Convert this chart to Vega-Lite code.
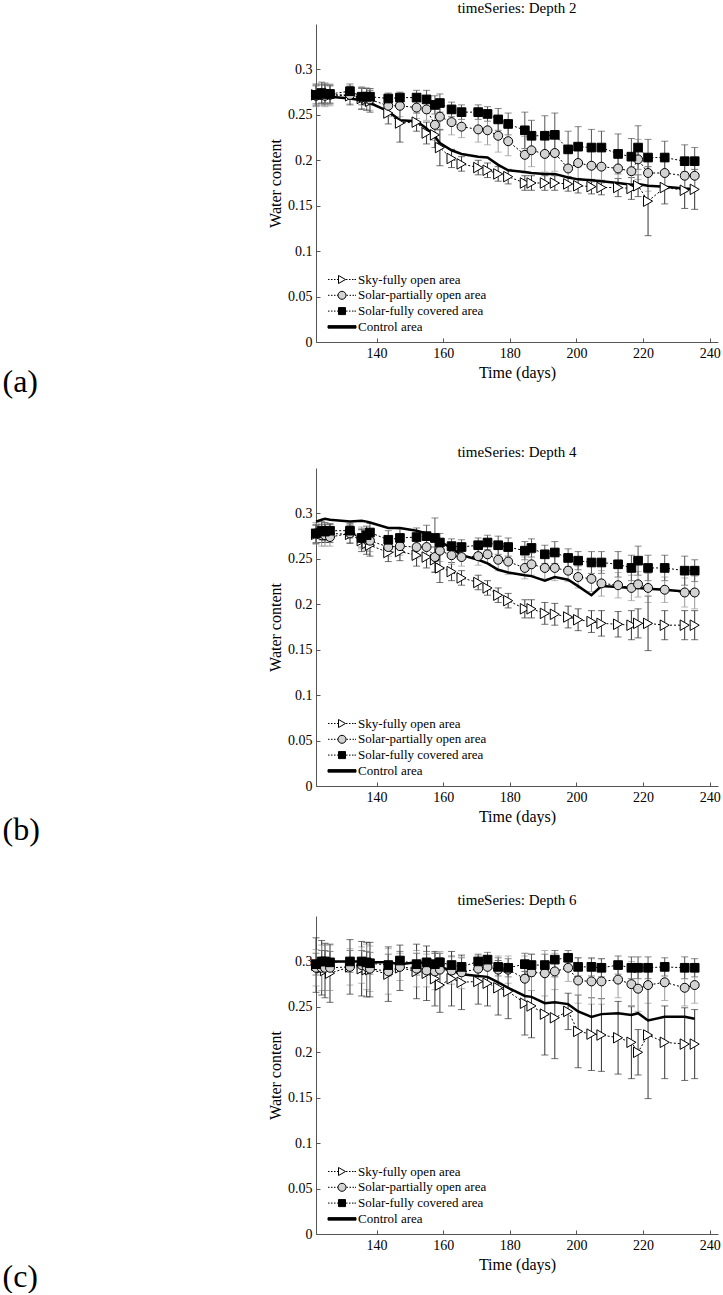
{
"$schema": "https://vega.github.io/schema/vega-lite/v6.json",
"padding": {"left": 2, "top": 1, "right": 2, "bottom": 0},
"config": {
 "font": "Liberation Serif",
 "view": {"stroke": null},
 "axis": {"grid": false, "domainColor": "#555", "tickColor": "#555", "tickSize": -4, "labelPadding": 8, "labelFont": "Liberation Serif", "labelFontSize": 14, "labelColor": "black", "titleFont": "Liberation Serif", "titleFontSize": 16, "titleFontWeight": "normal", "titleColor": "black"},
 "title": {"font": "Liberation Serif", "fontWeight": "normal", "color": "black"},
 "legend": {"title": null, "orient": "bottom-left", "offset": 8, "padding": 0, "labelFont": "Liberation Serif", "labelFontSize": 13, "labelColor": "black", "symbolSize": 100, "rowPadding": 1.8, "labelOffset": 21, "labelLimit": 0, "symbolOpacity": 1, "symbolStrokeWidth": 1, "symbolStrokeColor": "black"}
},
"datasets": {
"a": [
{"s":"sky","d":121.8,"v":0.272,"e":0.010},{"s":"sky","d":123.5,"v":0.273,"e":0.010},{"s":"sky","d":124.5,"v":0.273,"e":0.010},{"s":"sky","d":126,"v":0.272,"e":0.010},{"s":"sky","d":132,"v":0.271,"e":0.010},{"s":"sky","d":135.5,"v":0.268,"e":0.012},{"s":"sky","d":137,"v":0.267,"e":0.012},{"s":"sky","d":138,"v":0.265,"e":0.012},{"s":"sky","d":143.5,"v":0.252,"e":0.012},{"s":"sky","d":147,"v":0.241,"e":0.021},{"s":"sky","d":152,"v":0.242,"e":0.010},{"s":"sky","d":155,"v":0.230,"e":0.012},{"s":"sky","d":157.5,"v":0.228,"e":0.014},{"s":"sky","d":159,"v":0.214,"e":0.020},{"s":"sky","d":162.5,"v":0.202,"e":0.010},{"s":"sky","d":165.5,"v":0.196,"e":0.008},{"s":"sky","d":170.5,"v":0.192,"e":0.008},{"s":"sky","d":173.3,"v":0.189,"e":0.008},{"s":"sky","d":176.5,"v":0.185,"e":0.008},{"s":"sky","d":179.5,"v":0.182,"e":0.008},{"s":"sky","d":184.5,"v":0.175,"e":0.008},{"s":"sky","d":186.5,"v":0.175,"e":0.008},{"s":"sky","d":190.5,"v":0.175,"e":0.008},{"s":"sky","d":193.5,"v":0.175,"e":0.008},{"s":"sky","d":197.5,"v":0.174,"e":0.008},{"s":"sky","d":200.5,"v":0.172,"e":0.008},{"s":"sky","d":204.5,"v":0.171,"e":0.008},{"s":"sky","d":207.5,"v":0.170,"e":0.008},{"s":"sky","d":212.5,"v":0.170,"e":0.010},{"s":"sky","d":216.5,"v":0.169,"e":0.012},{"s":"sky","d":218.5,"v":0.172,"e":0.012},{"s":"sky","d":221.5,"v":0.155,"e":0.038},{"s":"sky","d":226.5,"v":0.170,"e":0.018},{"s":"sky","d":232.5,"v":0.167,"e":0.020},{"s":"sky","d":235.5,"v":0.168,"e":0.022},
{"s":"partial","d":121.8,"v":0.271,"e":0.012},{"s":"partial","d":123.5,"v":0.272,"e":0.012},{"s":"partial","d":124.5,"v":0.271,"e":0.012},{"s":"partial","d":126,"v":0.272,"e":0.012},{"s":"partial","d":132,"v":0.272,"e":0.010},{"s":"partial","d":135.5,"v":0.269,"e":0.012},{"s":"partial","d":137,"v":0.268,"e":0.012},{"s":"partial","d":138,"v":0.267,"e":0.012},{"s":"partial","d":143.5,"v":0.260,"e":0.012},{"s":"partial","d":147,"v":0.260,"e":0.012},{"s":"partial","d":152,"v":0.258,"e":0.012},{"s":"partial","d":155,"v":0.256,"e":0.012},{"s":"partial","d":157.5,"v":0.239,"e":0.017},{"s":"partial","d":159,"v":0.248,"e":0.015},{"s":"partial","d":162.5,"v":0.242,"e":0.014},{"s":"partial","d":165.5,"v":0.237,"e":0.012},{"s":"partial","d":170.5,"v":0.234,"e":0.014},{"s":"partial","d":173.3,"v":0.233,"e":0.016},{"s":"partial","d":176.5,"v":0.227,"e":0.018},{"s":"partial","d":179.5,"v":0.221,"e":0.016},{"s":"partial","d":184.5,"v":0.206,"e":0.020},{"s":"partial","d":186.5,"v":0.211,"e":0.018},{"s":"partial","d":190.5,"v":0.207,"e":0.020},{"s":"partial","d":193.5,"v":0.208,"e":0.020},{"s":"partial","d":197.5,"v":0.191,"e":0.018},{"s":"partial","d":200.5,"v":0.197,"e":0.018},{"s":"partial","d":204.5,"v":0.194,"e":0.018},{"s":"partial","d":207.5,"v":0.193,"e":0.018},{"s":"partial","d":212.5,"v":0.191,"e":0.020},{"s":"partial","d":216.5,"v":0.188,"e":0.018},{"s":"partial","d":218.5,"v":0.201,"e":0.022},{"s":"partial","d":221.5,"v":0.186,"e":0.020},{"s":"partial","d":226.5,"v":0.186,"e":0.018},{"s":"partial","d":232.5,"v":0.183,"e":0.018},{"s":"partial","d":235.5,"v":0.183,"e":0.016},
{"s":"covered","d":121.8,"v":0.272,"e":0.012},{"s":"covered","d":123.5,"v":0.274,"e":0.012},{"s":"covered","d":124.5,"v":0.273,"e":0.012},{"s":"covered","d":126,"v":0.273,"e":0.010},{"s":"covered","d":132,"v":0.276,"e":0.008},{"s":"covered","d":135.5,"v":0.270,"e":0.009},{"s":"covered","d":137,"v":0.270,"e":0.009},{"s":"covered","d":138,"v":0.270,"e":0.009},{"s":"covered","d":143.5,"v":0.268,"e":0.006},{"s":"covered","d":147,"v":0.269,"e":0.006},{"s":"covered","d":152,"v":0.269,"e":0.008},{"s":"covered","d":155,"v":0.267,"e":0.010},{"s":"covered","d":157.5,"v":0.261,"e":0.010},{"s":"covered","d":159,"v":0.263,"e":0.010},{"s":"covered","d":162.5,"v":0.256,"e":0.008},{"s":"covered","d":165.5,"v":0.253,"e":0.008},{"s":"covered","d":170.5,"v":0.253,"e":0.008},{"s":"covered","d":173.3,"v":0.251,"e":0.008},{"s":"covered","d":176.5,"v":0.245,"e":0.012},{"s":"covered","d":179.5,"v":0.240,"e":0.012},{"s":"covered","d":184.5,"v":0.233,"e":0.020},{"s":"covered","d":186.5,"v":0.227,"e":0.017},{"s":"covered","d":190.5,"v":0.227,"e":0.022},{"s":"covered","d":193.5,"v":0.228,"e":0.024},{"s":"covered","d":197.5,"v":0.212,"e":0.020},{"s":"covered","d":200.5,"v":0.215,"e":0.022},{"s":"covered","d":204.5,"v":0.214,"e":0.020},{"s":"covered","d":207.5,"v":0.214,"e":0.018},{"s":"covered","d":212.5,"v":0.207,"e":0.022},{"s":"covered","d":216.5,"v":0.204,"e":0.020},{"s":"covered","d":218.5,"v":0.214,"e":0.024},{"s":"covered","d":221.5,"v":0.203,"e":0.020},{"s":"covered","d":226.5,"v":0.203,"e":0.018},{"s":"covered","d":232.5,"v":0.199,"e":0.018},{"s":"covered","d":235.5,"v":0.199,"e":0.015},
{"s":"control","d":121.8,"v":0.271,"e":0},{"s":"control","d":123.5,"v":0.270,"e":0},{"s":"control","d":124.5,"v":0.270,"e":0},{"s":"control","d":126,"v":0.270,"e":0},{"s":"control","d":132,"v":0.268,"e":0},{"s":"control","d":135.5,"v":0.266,"e":0},{"s":"control","d":137,"v":0.264,"e":0},{"s":"control","d":138,"v":0.263,"e":0},{"s":"control","d":143.5,"v":0.254,"e":0},{"s":"control","d":147,"v":0.244,"e":0},{"s":"control","d":152,"v":0.243,"e":0},{"s":"control","d":155,"v":0.235,"e":0},{"s":"control","d":157.5,"v":0.226,"e":0},{"s":"control","d":159,"v":0.219,"e":0},{"s":"control","d":162.5,"v":0.211,"e":0},{"s":"control","d":165.5,"v":0.207,"e":0},{"s":"control","d":170.5,"v":0.204,"e":0},{"s":"control","d":173.3,"v":0.203,"e":0},{"s":"control","d":176.5,"v":0.195,"e":0},{"s":"control","d":179.5,"v":0.189,"e":0},{"s":"control","d":184.5,"v":0.187,"e":0},{"s":"control","d":186.5,"v":0.186,"e":0},{"s":"control","d":190.5,"v":0.185,"e":0},{"s":"control","d":193.5,"v":0.185,"e":0},{"s":"control","d":197.5,"v":0.181,"e":0},{"s":"control","d":200.5,"v":0.179,"e":0},{"s":"control","d":204.5,"v":0.178,"e":0},{"s":"control","d":207.5,"v":0.177,"e":0},{"s":"control","d":212.5,"v":0.175,"e":0},{"s":"control","d":216.5,"v":0.173,"e":0},{"s":"control","d":218.5,"v":0.174,"e":0},{"s":"control","d":221.5,"v":0.172,"e":0},{"s":"control","d":226.5,"v":0.171,"e":0},{"s":"control","d":232.5,"v":0.169,"e":0},{"s":"control","d":235.5,"v":0.168,"e":0}
],
"b": [
{"s":"sky","d":121.8,"v":0.277,"e":0.010},{"s":"sky","d":123.5,"v":0.278,"e":0.010},{"s":"sky","d":124.5,"v":0.278,"e":0.010},{"s":"sky","d":126,"v":0.278,"e":0.010},{"s":"sky","d":132,"v":0.277,"e":0.010},{"s":"sky","d":135.5,"v":0.270,"e":0.012},{"s":"sky","d":137,"v":0.267,"e":0.012},{"s":"sky","d":138,"v":0.265,"e":0.012},{"s":"sky","d":143.5,"v":0.257,"e":0.010},{"s":"sky","d":147,"v":0.258,"e":0.010},{"s":"sky","d":152,"v":0.254,"e":0.012},{"s":"sky","d":155,"v":0.252,"e":0.012},{"s":"sky","d":157.5,"v":0.249,"e":0.014},{"s":"sky","d":159,"v":0.240,"e":0.016},{"s":"sky","d":162.5,"v":0.236,"e":0.010},{"s":"sky","d":165.5,"v":0.229,"e":0.008},{"s":"sky","d":170.5,"v":0.224,"e":0.008},{"s":"sky","d":173.3,"v":0.218,"e":0.008},{"s":"sky","d":176.5,"v":0.210,"e":0.008},{"s":"sky","d":179.5,"v":0.204,"e":0.008},{"s":"sky","d":184.5,"v":0.195,"e":0.010},{"s":"sky","d":186.5,"v":0.195,"e":0.010},{"s":"sky","d":190.5,"v":0.190,"e":0.012},{"s":"sky","d":193.5,"v":0.189,"e":0.012},{"s":"sky","d":197.5,"v":0.186,"e":0.012},{"s":"sky","d":200.5,"v":0.183,"e":0.012},{"s":"sky","d":204.5,"v":0.181,"e":0.012},{"s":"sky","d":207.5,"v":0.179,"e":0.014},{"s":"sky","d":212.5,"v":0.178,"e":0.014},{"s":"sky","d":216.5,"v":0.177,"e":0.016},{"s":"sky","d":218.5,"v":0.179,"e":0.016},{"s":"sky","d":221.5,"v":0.179,"e":0.030},{"s":"sky","d":226.5,"v":0.177,"e":0.016},{"s":"sky","d":232.5,"v":0.177,"e":0.016},{"s":"sky","d":235.5,"v":0.177,"e":0.016},
{"s":"partial","d":121.8,"v":0.278,"e":0.012},{"s":"partial","d":123.5,"v":0.276,"e":0.012},{"s":"partial","d":124.5,"v":0.276,"e":0.012},{"s":"partial","d":126,"v":0.274,"e":0.010},{"s":"partial","d":132,"v":0.278,"e":0.010},{"s":"partial","d":135.5,"v":0.273,"e":0.012},{"s":"partial","d":137,"v":0.271,"e":0.012},{"s":"partial","d":138,"v":0.270,"e":0.012},{"s":"partial","d":143.5,"v":0.263,"e":0.010},{"s":"partial","d":147,"v":0.264,"e":0.010},{"s":"partial","d":152,"v":0.263,"e":0.012},{"s":"partial","d":155,"v":0.263,"e":0.012},{"s":"partial","d":157.5,"v":0.252,"e":0.016},{"s":"partial","d":159,"v":0.259,"e":0.012},{"s":"partial","d":162.5,"v":0.254,"e":0.010},{"s":"partial","d":165.5,"v":0.252,"e":0.010},{"s":"partial","d":170.5,"v":0.253,"e":0.010},{"s":"partial","d":173.3,"v":0.255,"e":0.010},{"s":"partial","d":176.5,"v":0.249,"e":0.012},{"s":"partial","d":179.5,"v":0.247,"e":0.014},{"s":"partial","d":184.5,"v":0.240,"e":0.012},{"s":"partial","d":186.5,"v":0.244,"e":0.012},{"s":"partial","d":190.5,"v":0.240,"e":0.012},{"s":"partial","d":193.5,"v":0.240,"e":0.014},{"s":"partial","d":197.5,"v":0.237,"e":0.012},{"s":"partial","d":200.5,"v":0.230,"e":0.012},{"s":"partial","d":204.5,"v":0.228,"e":0.014},{"s":"partial","d":207.5,"v":0.223,"e":0.014},{"s":"partial","d":212.5,"v":0.221,"e":0.014},{"s":"partial","d":216.5,"v":0.218,"e":0.014},{"s":"partial","d":218.5,"v":0.222,"e":0.014},{"s":"partial","d":221.5,"v":0.218,"e":0.016},{"s":"partial","d":226.5,"v":0.216,"e":0.014},{"s":"partial","d":232.5,"v":0.213,"e":0.016},{"s":"partial","d":235.5,"v":0.213,"e":0.018},
{"s":"covered","d":121.8,"v":0.278,"e":0.010},{"s":"covered","d":123.5,"v":0.281,"e":0.010},{"s":"covered","d":124.5,"v":0.280,"e":0.010},{"s":"covered","d":126,"v":0.281,"e":0.008},{"s":"covered","d":132,"v":0.281,"e":0.008},{"s":"covered","d":135.5,"v":0.273,"e":0.010},{"s":"covered","d":137,"v":0.276,"e":0.010},{"s":"covered","d":138,"v":0.279,"e":0.010},{"s":"covered","d":143.5,"v":0.271,"e":0.010},{"s":"covered","d":147,"v":0.273,"e":0.010},{"s":"covered","d":152,"v":0.274,"e":0.010},{"s":"covered","d":155,"v":0.275,"e":0.012},{"s":"covered","d":157.5,"v":0.273,"e":0.022},{"s":"covered","d":159,"v":0.268,"e":0.010},{"s":"covered","d":162.5,"v":0.264,"e":0.008},{"s":"covered","d":165.5,"v":0.263,"e":0.008},{"s":"covered","d":170.5,"v":0.265,"e":0.008},{"s":"covered","d":173.3,"v":0.268,"e":0.008},{"s":"covered","d":176.5,"v":0.265,"e":0.010},{"s":"covered","d":179.5,"v":0.263,"e":0.010},{"s":"covered","d":184.5,"v":0.259,"e":0.010},{"s":"covered","d":186.5,"v":0.262,"e":0.010},{"s":"covered","d":190.5,"v":0.255,"e":0.010},{"s":"covered","d":193.5,"v":0.257,"e":0.012},{"s":"covered","d":197.5,"v":0.251,"e":0.010},{"s":"covered","d":200.5,"v":0.248,"e":0.010},{"s":"covered","d":204.5,"v":0.246,"e":0.012},{"s":"covered","d":207.5,"v":0.246,"e":0.012},{"s":"covered","d":212.5,"v":0.244,"e":0.014},{"s":"covered","d":216.5,"v":0.240,"e":0.014},{"s":"covered","d":218.5,"v":0.248,"e":0.016},{"s":"covered","d":221.5,"v":0.240,"e":0.014},{"s":"covered","d":226.5,"v":0.240,"e":0.014},{"s":"covered","d":232.5,"v":0.237,"e":0.016},{"s":"covered","d":235.5,"v":0.237,"e":0.012},
{"s":"control","d":121.8,"v":0.291,"e":0},{"s":"control","d":123.5,"v":0.293,"e":0},{"s":"control","d":124.5,"v":0.294,"e":0},{"s":"control","d":126,"v":0.293,"e":0},{"s":"control","d":132,"v":0.291,"e":0},{"s":"control","d":135.5,"v":0.292,"e":0},{"s":"control","d":137,"v":0.291,"e":0},{"s":"control","d":138,"v":0.290,"e":0},{"s":"control","d":143.5,"v":0.284,"e":0},{"s":"control","d":147,"v":0.284,"e":0},{"s":"control","d":152,"v":0.281,"e":0},{"s":"control","d":155,"v":0.278,"e":0},{"s":"control","d":157.5,"v":0.273,"e":0},{"s":"control","d":159,"v":0.269,"e":0},{"s":"control","d":162.5,"v":0.262,"e":0},{"s":"control","d":165.5,"v":0.254,"e":0},{"s":"control","d":170.5,"v":0.249,"e":0},{"s":"control","d":173.3,"v":0.245,"e":0},{"s":"control","d":176.5,"v":0.238,"e":0},{"s":"control","d":179.5,"v":0.235,"e":0},{"s":"control","d":184.5,"v":0.232,"e":0},{"s":"control","d":186.5,"v":0.231,"e":0},{"s":"control","d":190.5,"v":0.226,"e":0},{"s":"control","d":193.5,"v":0.230,"e":0},{"s":"control","d":197.5,"v":0.227,"e":0},{"s":"control","d":200.5,"v":0.220,"e":0},{"s":"control","d":204.5,"v":0.210,"e":0},{"s":"control","d":207.5,"v":0.220,"e":0},{"s":"control","d":212.5,"v":0.219,"e":0},{"s":"control","d":216.5,"v":0.218,"e":0},{"s":"control","d":218.5,"v":0.218,"e":0},{"s":"control","d":221.5,"v":0.217,"e":0},{"s":"control","d":226.5,"v":0.216,"e":0},{"s":"control","d":232.5,"v":0.214,"e":0},{"s":"control","d":235.5,"v":0.213,"e":0}
],
"c": [
{"s":"sky","d":121.8,"v":0.296,"e":0.030},{"s":"sky","d":123.5,"v":0.293,"e":0.030},{"s":"sky","d":124.5,"v":0.290,"e":0.030},{"s":"sky","d":126,"v":0.287,"e":0.032},{"s":"sky","d":132,"v":0.294,"e":0.030},{"s":"sky","d":135.5,"v":0.292,"e":0.030},{"s":"sky","d":137,"v":0.291,"e":0.030},{"s":"sky","d":138,"v":0.291,"e":0.030},{"s":"sky","d":143.5,"v":0.286,"e":0.030},{"s":"sky","d":147,"v":0.293,"e":0.025},{"s":"sky","d":152,"v":0.289,"e":0.030},{"s":"sky","d":155,"v":0.287,"e":0.030},{"s":"sky","d":157.5,"v":0.281,"e":0.030},{"s":"sky","d":159,"v":0.274,"e":0.030},{"s":"sky","d":162.5,"v":0.281,"e":0.030},{"s":"sky","d":165.5,"v":0.277,"e":0.030},{"s":"sky","d":170.5,"v":0.278,"e":0.025},{"s":"sky","d":173.3,"v":0.276,"e":0.025},{"s":"sky","d":176.5,"v":0.271,"e":0.030},{"s":"sky","d":179.5,"v":0.267,"e":0.030},{"s":"sky","d":184.5,"v":0.254,"e":0.035},{"s":"sky","d":186.5,"v":0.251,"e":0.035},{"s":"sky","d":190.5,"v":0.242,"e":0.045},{"s":"sky","d":193.5,"v":0.238,"e":0.045},{"s":"sky","d":197.5,"v":0.245,"e":0.020},{"s":"sky","d":200.5,"v":0.223,"e":0.040},{"s":"sky","d":204.5,"v":0.220,"e":0.040},{"s":"sky","d":207.5,"v":0.219,"e":0.040},{"s":"sky","d":212.5,"v":0.216,"e":0.040},{"s":"sky","d":216.5,"v":0.211,"e":0.040},{"s":"sky","d":218.5,"v":0.200,"e":0.025},{"s":"sky","d":221.5,"v":0.219,"e":0.070},{"s":"sky","d":226.5,"v":0.211,"e":0.040},{"s":"sky","d":232.5,"v":0.209,"e":0.040},{"s":"sky","d":235.5,"v":0.209,"e":0.038},
{"s":"partial","d":121.8,"v":0.293,"e":0.020},{"s":"partial","d":123.5,"v":0.293,"e":0.025},{"s":"partial","d":124.5,"v":0.293,"e":0.025},{"s":"partial","d":126,"v":0.293,"e":0.025},{"s":"partial","d":132,"v":0.294,"e":0.020},{"s":"partial","d":135.5,"v":0.296,"e":0.020},{"s":"partial","d":137,"v":0.294,"e":0.025},{"s":"partial","d":138,"v":0.292,"e":0.025},{"s":"partial","d":143.5,"v":0.289,"e":0.025},{"s":"partial","d":147,"v":0.294,"e":0.015},{"s":"partial","d":152,"v":0.292,"e":0.020},{"s":"partial","d":155,"v":0.290,"e":0.018},{"s":"partial","d":157.5,"v":0.289,"e":0.020},{"s":"partial","d":159,"v":0.291,"e":0.020},{"s":"partial","d":162.5,"v":0.290,"e":0.015},{"s":"partial","d":165.5,"v":0.288,"e":0.018},{"s":"partial","d":170.5,"v":0.292,"e":0.015},{"s":"partial","d":173.3,"v":0.294,"e":0.012},{"s":"partial","d":176.5,"v":0.291,"e":0.015},{"s":"partial","d":179.5,"v":0.291,"e":0.015},{"s":"partial","d":184.5,"v":0.281,"e":0.025},{"s":"partial","d":186.5,"v":0.288,"e":0.020},{"s":"partial","d":190.5,"v":0.287,"e":0.025},{"s":"partial","d":193.5,"v":0.289,"e":0.020},{"s":"partial","d":197.5,"v":0.293,"e":0.015},{"s":"partial","d":200.5,"v":0.279,"e":0.025},{"s":"partial","d":204.5,"v":0.278,"e":0.025},{"s":"partial","d":207.5,"v":0.278,"e":0.025},{"s":"partial","d":212.5,"v":0.280,"e":0.020},{"s":"partial","d":216.5,"v":0.275,"e":0.025},{"s":"partial","d":218.5,"v":0.270,"e":0.025},{"s":"partial","d":221.5,"v":0.274,"e":0.020},{"s":"partial","d":226.5,"v":0.277,"e":0.020},{"s":"partial","d":232.5,"v":0.271,"e":0.020},{"s":"partial","d":235.5,"v":0.274,"e":0.020},
{"s":"covered","d":121.8,"v":0.297,"e":0.012},{"s":"covered","d":123.5,"v":0.300,"e":0.012},{"s":"covered","d":124.5,"v":0.300,"e":0.012},{"s":"covered","d":126,"v":0.299,"e":0.012},{"s":"covered","d":132,"v":0.300,"e":0.012},{"s":"covered","d":135.5,"v":0.300,"e":0.012},{"s":"covered","d":137,"v":0.299,"e":0.012},{"s":"covered","d":138,"v":0.298,"e":0.012},{"s":"covered","d":143.5,"v":0.296,"e":0.012},{"s":"covered","d":147,"v":0.301,"e":0.010},{"s":"covered","d":152,"v":0.297,"e":0.012},{"s":"covered","d":155,"v":0.299,"e":0.012},{"s":"covered","d":157.5,"v":0.297,"e":0.012},{"s":"covered","d":159,"v":0.299,"e":0.010},{"s":"covered","d":162.5,"v":0.296,"e":0.010},{"s":"covered","d":165.5,"v":0.294,"e":0.010},{"s":"covered","d":170.5,"v":0.300,"e":0.008},{"s":"covered","d":173.3,"v":0.302,"e":0.008},{"s":"covered","d":176.5,"v":0.294,"e":0.010},{"s":"covered","d":179.5,"v":0.293,"e":0.010},{"s":"covered","d":184.5,"v":0.297,"e":0.012},{"s":"covered","d":186.5,"v":0.296,"e":0.012},{"s":"covered","d":190.5,"v":0.296,"e":0.012},{"s":"covered","d":193.5,"v":0.302,"e":0.010},{"s":"covered","d":197.5,"v":0.304,"e":0.008},{"s":"covered","d":200.5,"v":0.294,"e":0.010},{"s":"covered","d":204.5,"v":0.294,"e":0.010},{"s":"covered","d":207.5,"v":0.293,"e":0.010},{"s":"covered","d":212.5,"v":0.296,"e":0.010},{"s":"covered","d":216.5,"v":0.293,"e":0.012},{"s":"covered","d":218.5,"v":0.293,"e":0.012},{"s":"covered","d":221.5,"v":0.293,"e":0.012},{"s":"covered","d":226.5,"v":0.294,"e":0.010},{"s":"covered","d":232.5,"v":0.293,"e":0.012},{"s":"covered","d":235.5,"v":0.293,"e":0.010},
{"s":"control","d":121.8,"v":0.300,"e":0},{"s":"control","d":123.5,"v":0.301,"e":0},{"s":"control","d":124.5,"v":0.301,"e":0},{"s":"control","d":126,"v":0.300,"e":0},{"s":"control","d":132,"v":0.300,"e":0},{"s":"control","d":135.5,"v":0.300,"e":0},{"s":"control","d":137,"v":0.300,"e":0},{"s":"control","d":138,"v":0.299,"e":0},{"s":"control","d":143.5,"v":0.299,"e":0},{"s":"control","d":147,"v":0.297,"e":0},{"s":"control","d":152,"v":0.299,"e":0},{"s":"control","d":155,"v":0.298,"e":0},{"s":"control","d":157.5,"v":0.296,"e":0},{"s":"control","d":159,"v":0.294,"e":0},{"s":"control","d":162.5,"v":0.290,"e":0},{"s":"control","d":165.5,"v":0.286,"e":0},{"s":"control","d":170.5,"v":0.284,"e":0},{"s":"control","d":173.3,"v":0.283,"e":0},{"s":"control","d":176.5,"v":0.277,"e":0},{"s":"control","d":179.5,"v":0.271,"e":0},{"s":"control","d":184.5,"v":0.262,"e":0},{"s":"control","d":186.5,"v":0.261,"e":0},{"s":"control","d":190.5,"v":0.254,"e":0},{"s":"control","d":193.5,"v":0.255,"e":0},{"s":"control","d":197.5,"v":0.253,"e":0},{"s":"control","d":200.5,"v":0.245,"e":0},{"s":"control","d":204.5,"v":0.239,"e":0},{"s":"control","d":207.5,"v":0.242,"e":0},{"s":"control","d":212.5,"v":0.243,"e":0},{"s":"control","d":216.5,"v":0.241,"e":0},{"s":"control","d":218.5,"v":0.243,"e":0},{"s":"control","d":221.5,"v":0.235,"e":0},{"s":"control","d":226.5,"v":0.239,"e":0},{"s":"control","d":232.5,"v":0.239,"e":0},{"s":"control","d":235.5,"v":0.237,"e":0}
]
},
"spacing": 47,
"resolve": {"scale": {"shape": "independent", "fill": "independent", "stroke": "independent", "color": "independent"}, "legend": {"shape": "independent", "fill": "independent", "stroke": "independent"}},
"vconcat": [
{
 "title": {"text": "(a)", "orient": "bottom", "anchor": "start", "fontSize": 32, "dx": -265, "offset": -13},
 "resolve": {"scale": {"shape": "independent", "fill": "independent", "stroke": "independent", "color": "independent"}, "legend": {"shape": "independent", "fill": "independent", "stroke": "independent"}},
 "vconcat": [{
  "title": {"text": "timeSeries: Depth 2", "frame": "group", "anchor": "middle", "fontSize": 15, "offset": 8},
  "data": {"name": "a"},
  "width": 402, "height": 318,
  "layer": [
   {"transform": [{"filter": "datum.s !== 'control'"}],
    "mark": {"type": "errorbar", "ticks": {"size": 7}, "thickness": 1},
    "encoding": {
     "x": {"field": "d", "type": "quantitative", "scale": {"domain": [121.8, 242.5]}, "axis": {"values": [140, 160, 180, 200, 220, 240], "title": "Time (days)"}},
     "y": {"field": "v", "type": "quantitative", "scale": {"domain": [0, 0.35]}, "axis": {"values": [0, 0.05, 0.1, 0.15, 0.2, 0.25, 0.3], "format": "~g", "title": "Water content"}},
     "yError": {"field": "e"},
     "color": {"field": "s", "type": "nominal", "scale": {"domain": ["sky", "partial", "covered"], "range": ["#333333", "#999999", "#555555"]}, "legend": null}}},
   {"transform": [{"filter": "datum.s !== 'control'"}],
    "mark": {"type": "line", "strokeDash": [2, 2], "strokeWidth": 1, "color": "black"},
    "encoding": {
     "x": {"field": "d", "type": "quantitative", "scale": {"domain": [121.8, 242.5]}},
     "y": {"field": "v", "type": "quantitative", "scale": {"domain": [0, 0.35]}},
     "detail": {"field": "s"}}},
   {"transform": [{"filter": "datum.s === 'control'"}],
    "mark": {"type": "line", "strokeWidth": 2.5, "color": "black"},
    "encoding": {
     "x": {"field": "d", "type": "quantitative", "scale": {"domain": [121.8, 242.5]}},
     "y": {"field": "v", "type": "quantitative", "scale": {"domain": [0, 0.35]}}}},
   {"transform": [{"filter": "datum.s === 'sky'"}],
    "mark": {"type": "point", "shape": "triangle-right", "filled": true, "fill": "white", "stroke": "black", "strokeWidth": 1, "size": 110, "opacity": 1},
    "encoding": {
     "x": {"field": "d", "type": "quantitative", "scale": {"domain": [121.8, 242.5]}},
     "y": {"field": "v", "type": "quantitative", "scale": {"domain": [0, 0.35]}}}},
   {"transform": [{"filter": "datum.s === 'partial'"}],
    "mark": {"type": "point", "shape": "circle", "filled": true, "fill": "#d3d3d3", "stroke": "black", "strokeWidth": 1, "size": 80, "opacity": 1},
    "encoding": {
     "x": {"field": "d", "type": "quantitative", "scale": {"domain": [121.8, 242.5]}},
     "y": {"field": "v", "type": "quantitative", "scale": {"domain": [0, 0.35]}}}},
   {"transform": [{"filter": "datum.s === 'covered'"}],
    "mark": {"type": "point", "shape": "square", "filled": true, "fill": "black", "stroke": "black", "strokeWidth": 1, "size": 75, "opacity": 1},
    "encoding": {
     "x": {"field": "d", "type": "quantitative", "scale": {"domain": [121.8, 242.5]}},
     "y": {"field": "v", "type": "quantitative", "scale": {"domain": [0, 0.35]}}}},
   {"transform": [{"filter": "datum.d === 121.8"}],
    "mark": {"type": "point", "filled": true, "strokeWidth": 1, "opacity": 0},
    "encoding": {
     "x": {"field": "d", "type": "quantitative", "scale": {"domain": [121.8, 242.5]}},
     "y": {"field": "v", "type": "quantitative", "scale": {"domain": [0, 0.35]}},
     "fill": {"field": "s", "type": "nominal", "scale": {"domain": ["sky", "partial", "covered", "control"], "range": ["white", "#d3d3d3", "black", "black"]},
      "legend": {"labelExpr": "datum.value === 'sky' ? 'Sky-fully open area' : datum.value === 'partial' ? 'Solar-partially open area' : datum.value === 'covered' ? 'Solar-fully covered area' : 'Control area'"}},
     "stroke": {"field": "s", "type": "nominal", "scale": {"domain": ["sky", "partial", "covered", "control"], "range": ["black", "black", "black", "black"]},
      "legend": {"labelExpr": "datum.value === 'sky' ? 'Sky-fully open area' : datum.value === 'partial' ? 'Solar-partially open area' : datum.value === 'covered' ? 'Solar-fully covered area' : 'Control area'"}},
     "shape": {"field": "s", "type": "nominal", "scale": {"domain": ["sky", "partial", "covered", "control"], "range": [
       "M-0.5,0H-0.2M0.1,0H0.4M0.7,0H1.0M1.3,0H1.5M1.6,-0.8L3.0,0L1.6,0.8ZM3.1,0H3.4M3.7,0H4.0M4.3,0H4.6M4.8,0H5.1",
       "M-0.5,0H-0.2M0.1,0H0.4M0.7,0H1.0M1.3,0H1.5M1.5,0A0.8,0.8,0,1,1,3.1,0A0.8,0.8,0,1,1,1.5,0ZM3.2,0H3.5M3.8,0H4.1M4.4,0H4.7M4.9,0H5.1",
       "M-0.5,0H-0.2M0.1,0H0.4M0.7,0H1.0M1.3,0H1.6M1.6,-0.7H3.0V0.7H1.6ZM3.1,0H3.4M3.7,0H4.0M4.3,0H4.6M4.8,0H5.1",
       "M-0.5,-0.25H5.1V0.25H-0.5Z"]},
      "legend": {"labelExpr": "datum.value === 'sky' ? 'Sky-fully open area' : datum.value === 'partial' ? 'Solar-partially open area' : datum.value === 'covered' ? 'Solar-fully covered area' : 'Control area'"}}}}
  ]
 }]
},
{
 "title": {"text": "(b)", "orient": "bottom", "anchor": "start", "fontSize": 32, "dx": -265, "offset": -9},
 "resolve": {"scale": {"shape": "independent", "fill": "independent", "stroke": "independent", "color": "independent"}, "legend": {"shape": "independent", "fill": "independent", "stroke": "independent"}},
 "vconcat": [{
  "title": {"text": "timeSeries: Depth 4", "frame": "group", "anchor": "middle", "fontSize": 15, "offset": 8},
  "data": {"name": "b"},
  "width": 402, "height": 318,
  "layer": [
   {"transform": [{"filter": "datum.s !== 'control'"}],
    "mark": {"type": "errorbar", "ticks": {"size": 7}, "thickness": 1},
    "encoding": {
     "x": {"field": "d", "type": "quantitative", "scale": {"domain": [121.8, 242.5]}, "axis": {"values": [140, 160, 180, 200, 220, 240], "title": "Time (days)"}},
     "y": {"field": "v", "type": "quantitative", "scale": {"domain": [0, 0.35]}, "axis": {"values": [0, 0.05, 0.1, 0.15, 0.2, 0.25, 0.3], "format": "~g", "title": "Water content"}},
     "yError": {"field": "e"},
     "color": {"field": "s", "type": "nominal", "scale": {"domain": ["sky", "partial", "covered"], "range": ["#333333", "#999999", "#555555"]}, "legend": null}}},
   {"transform": [{"filter": "datum.s !== 'control'"}],
    "mark": {"type": "line", "strokeDash": [2, 2], "strokeWidth": 1, "color": "black"},
    "encoding": {
     "x": {"field": "d", "type": "quantitative", "scale": {"domain": [121.8, 242.5]}},
     "y": {"field": "v", "type": "quantitative", "scale": {"domain": [0, 0.35]}},
     "detail": {"field": "s"}}},
   {"transform": [{"filter": "datum.s === 'control'"}],
    "mark": {"type": "line", "strokeWidth": 2.5, "color": "black"},
    "encoding": {
     "x": {"field": "d", "type": "quantitative", "scale": {"domain": [121.8, 242.5]}},
     "y": {"field": "v", "type": "quantitative", "scale": {"domain": [0, 0.35]}}}},
   {"transform": [{"filter": "datum.s === 'sky'"}],
    "mark": {"type": "point", "shape": "triangle-right", "filled": true, "fill": "white", "stroke": "black", "strokeWidth": 1, "size": 110, "opacity": 1},
    "encoding": {
     "x": {"field": "d", "type": "quantitative", "scale": {"domain": [121.8, 242.5]}},
     "y": {"field": "v", "type": "quantitative", "scale": {"domain": [0, 0.35]}}}},
   {"transform": [{"filter": "datum.s === 'partial'"}],
    "mark": {"type": "point", "shape": "circle", "filled": true, "fill": "#d3d3d3", "stroke": "black", "strokeWidth": 1, "size": 80, "opacity": 1},
    "encoding": {
     "x": {"field": "d", "type": "quantitative", "scale": {"domain": [121.8, 242.5]}},
     "y": {"field": "v", "type": "quantitative", "scale": {"domain": [0, 0.35]}}}},
   {"transform": [{"filter": "datum.s === 'covered'"}],
    "mark": {"type": "point", "shape": "square", "filled": true, "fill": "black", "stroke": "black", "strokeWidth": 1, "size": 75, "opacity": 1},
    "encoding": {
     "x": {"field": "d", "type": "quantitative", "scale": {"domain": [121.8, 242.5]}},
     "y": {"field": "v", "type": "quantitative", "scale": {"domain": [0, 0.35]}}}},
   {"transform": [{"filter": "datum.d === 121.8"}],
    "mark": {"type": "point", "filled": true, "strokeWidth": 1, "opacity": 0},
    "encoding": {
     "x": {"field": "d", "type": "quantitative", "scale": {"domain": [121.8, 242.5]}},
     "y": {"field": "v", "type": "quantitative", "scale": {"domain": [0, 0.35]}},
     "fill": {"field": "s", "type": "nominal", "scale": {"domain": ["sky", "partial", "covered", "control"], "range": ["white", "#d3d3d3", "black", "black"]},
      "legend": {"labelExpr": "datum.value === 'sky' ? 'Sky-fully open area' : datum.value === 'partial' ? 'Solar-partially open area' : datum.value === 'covered' ? 'Solar-fully covered area' : 'Control area'"}},
     "stroke": {"field": "s", "type": "nominal", "scale": {"domain": ["sky", "partial", "covered", "control"], "range": ["black", "black", "black", "black"]},
      "legend": {"labelExpr": "datum.value === 'sky' ? 'Sky-fully open area' : datum.value === 'partial' ? 'Solar-partially open area' : datum.value === 'covered' ? 'Solar-fully covered area' : 'Control area'"}},
     "shape": {"field": "s", "type": "nominal", "scale": {"domain": ["sky", "partial", "covered", "control"], "range": [
       "M-0.5,0H-0.2M0.1,0H0.4M0.7,0H1.0M1.3,0H1.5M1.6,-0.8L3.0,0L1.6,0.8ZM3.1,0H3.4M3.7,0H4.0M4.3,0H4.6M4.8,0H5.1",
       "M-0.5,0H-0.2M0.1,0H0.4M0.7,0H1.0M1.3,0H1.5M1.5,0A0.8,0.8,0,1,1,3.1,0A0.8,0.8,0,1,1,1.5,0ZM3.2,0H3.5M3.8,0H4.1M4.4,0H4.7M4.9,0H5.1",
       "M-0.5,0H-0.2M0.1,0H0.4M0.7,0H1.0M1.3,0H1.6M1.6,-0.7H3.0V0.7H1.6ZM3.1,0H3.4M3.7,0H4.0M4.3,0H4.6M4.8,0H5.1",
       "M-0.5,-0.25H5.1V0.25H-0.5Z"]},
      "legend": {"labelExpr": "datum.value === 'sky' ? 'Sky-fully open area' : datum.value === 'partial' ? 'Solar-partially open area' : datum.value === 'covered' ? 'Solar-fully covered area' : 'Control area'"}}}}
  ]
 }]
},
{
 "title": {"text": "(c)", "orient": "bottom", "anchor": "start", "fontSize": 32, "dx": -265, "offset": -10},
 "resolve": {"scale": {"shape": "independent", "fill": "independent", "stroke": "independent", "color": "independent"}, "legend": {"shape": "independent", "fill": "independent", "stroke": "independent"}},
 "vconcat": [{
  "title": {"text": "timeSeries: Depth 6", "frame": "group", "anchor": "middle", "fontSize": 15, "offset": 8},
  "data": {"name": "c"},
  "width": 402, "height": 318,
  "layer": [
   {"transform": [{"filter": "datum.s !== 'control'"}],
    "mark": {"type": "errorbar", "ticks": {"size": 7}, "thickness": 1},
    "encoding": {
     "x": {"field": "d", "type": "quantitative", "scale": {"domain": [121.8, 242.5]}, "axis": {"values": [140, 160, 180, 200, 220, 240], "title": "Time (days)"}},
     "y": {"field": "v", "type": "quantitative", "scale": {"domain": [0, 0.35]}, "axis": {"values": [0, 0.05, 0.1, 0.15, 0.2, 0.25, 0.3], "format": "~g", "title": "Water content"}},
     "yError": {"field": "e"},
     "color": {"field": "s", "type": "nominal", "scale": {"domain": ["sky", "partial", "covered"], "range": ["#333333", "#999999", "#555555"]}, "legend": null}}},
   {"transform": [{"filter": "datum.s !== 'control'"}],
    "mark": {"type": "line", "strokeDash": [2, 2], "strokeWidth": 1, "color": "black"},
    "encoding": {
     "x": {"field": "d", "type": "quantitative", "scale": {"domain": [121.8, 242.5]}},
     "y": {"field": "v", "type": "quantitative", "scale": {"domain": [0, 0.35]}},
     "detail": {"field": "s"}}},
   {"transform": [{"filter": "datum.s === 'control'"}],
    "mark": {"type": "line", "strokeWidth": 2.5, "color": "black"},
    "encoding": {
     "x": {"field": "d", "type": "quantitative", "scale": {"domain": [121.8, 242.5]}},
     "y": {"field": "v", "type": "quantitative", "scale": {"domain": [0, 0.35]}}}},
   {"transform": [{"filter": "datum.s === 'sky'"}],
    "mark": {"type": "point", "shape": "triangle-right", "filled": true, "fill": "white", "stroke": "black", "strokeWidth": 1, "size": 110, "opacity": 1},
    "encoding": {
     "x": {"field": "d", "type": "quantitative", "scale": {"domain": [121.8, 242.5]}},
     "y": {"field": "v", "type": "quantitative", "scale": {"domain": [0, 0.35]}}}},
   {"transform": [{"filter": "datum.s === 'partial'"}],
    "mark": {"type": "point", "shape": "circle", "filled": true, "fill": "#d3d3d3", "stroke": "black", "strokeWidth": 1, "size": 80, "opacity": 1},
    "encoding": {
     "x": {"field": "d", "type": "quantitative", "scale": {"domain": [121.8, 242.5]}},
     "y": {"field": "v", "type": "quantitative", "scale": {"domain": [0, 0.35]}}}},
   {"transform": [{"filter": "datum.s === 'covered'"}],
    "mark": {"type": "point", "shape": "square", "filled": true, "fill": "black", "stroke": "black", "strokeWidth": 1, "size": 75, "opacity": 1},
    "encoding": {
     "x": {"field": "d", "type": "quantitative", "scale": {"domain": [121.8, 242.5]}},
     "y": {"field": "v", "type": "quantitative", "scale": {"domain": [0, 0.35]}}}},
   {"transform": [{"filter": "datum.d === 121.8"}],
    "mark": {"type": "point", "filled": true, "strokeWidth": 1, "opacity": 0},
    "encoding": {
     "x": {"field": "d", "type": "quantitative", "scale": {"domain": [121.8, 242.5]}},
     "y": {"field": "v", "type": "quantitative", "scale": {"domain": [0, 0.35]}},
     "fill": {"field": "s", "type": "nominal", "scale": {"domain": ["sky", "partial", "covered", "control"], "range": ["white", "#d3d3d3", "black", "black"]},
      "legend": {"labelExpr": "datum.value === 'sky' ? 'Sky-fully open area' : datum.value === 'partial' ? 'Solar-partially open area' : datum.value === 'covered' ? 'Solar-fully covered area' : 'Control area'"}},
     "stroke": {"field": "s", "type": "nominal", "scale": {"domain": ["sky", "partial", "covered", "control"], "range": ["black", "black", "black", "black"]},
      "legend": {"labelExpr": "datum.value === 'sky' ? 'Sky-fully open area' : datum.value === 'partial' ? 'Solar-partially open area' : datum.value === 'covered' ? 'Solar-fully covered area' : 'Control area'"}},
     "shape": {"field": "s", "type": "nominal", "scale": {"domain": ["sky", "partial", "covered", "control"], "range": [
       "M-0.5,0H-0.2M0.1,0H0.4M0.7,0H1.0M1.3,0H1.5M1.6,-0.8L3.0,0L1.6,0.8ZM3.1,0H3.4M3.7,0H4.0M4.3,0H4.6M4.8,0H5.1",
       "M-0.5,0H-0.2M0.1,0H0.4M0.7,0H1.0M1.3,0H1.5M1.5,0A0.8,0.8,0,1,1,3.1,0A0.8,0.8,0,1,1,1.5,0ZM3.2,0H3.5M3.8,0H4.1M4.4,0H4.7M4.9,0H5.1",
       "M-0.5,0H-0.2M0.1,0H0.4M0.7,0H1.0M1.3,0H1.6M1.6,-0.7H3.0V0.7H1.6ZM3.1,0H3.4M3.7,0H4.0M4.3,0H4.6M4.8,0H5.1",
       "M-0.5,-0.25H5.1V0.25H-0.5Z"]},
      "legend": {"labelExpr": "datum.value === 'sky' ? 'Sky-fully open area' : datum.value === 'partial' ? 'Solar-partially open area' : datum.value === 'covered' ? 'Solar-fully covered area' : 'Control area'"}}}}
  ]
 }]
}
]
}
